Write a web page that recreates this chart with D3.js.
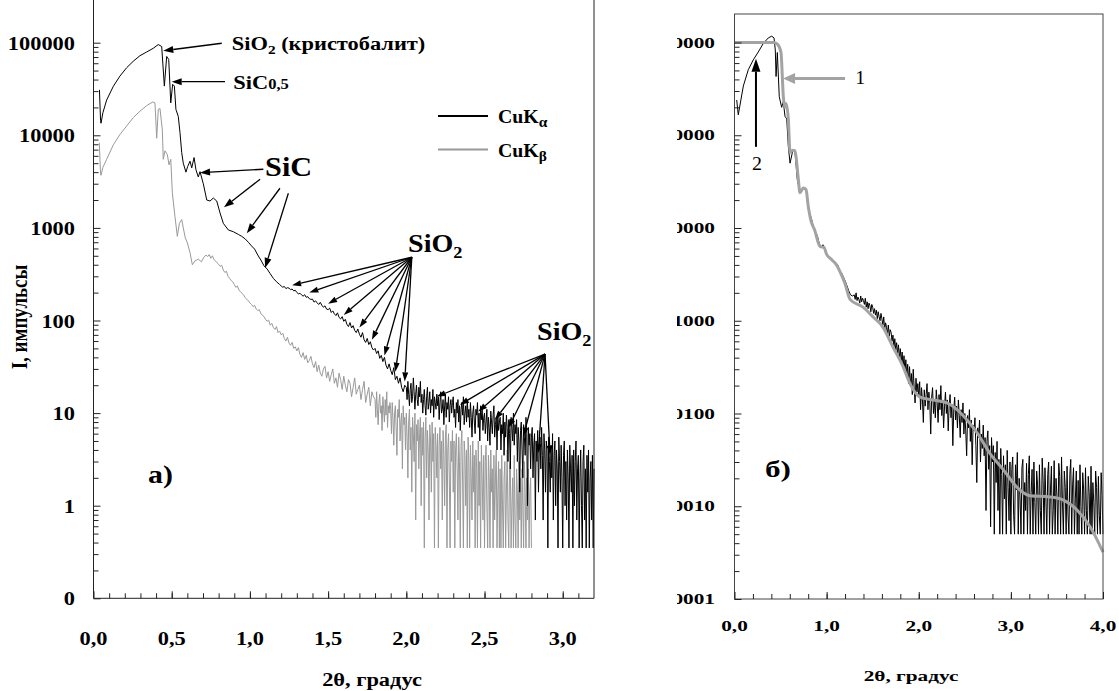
<!DOCTYPE html>
<html>
<head>
<meta charset="utf-8">
<script src="https://cdn.jsdelivr.net/npm/d3@7"></script>
<style>
  body { margin: 0; background: #fff; }
  svg { display: block; }
  text { font-family: "Liberation Serif", "Times New Roman", serif; fill: #000; }
</style>
</head>
<body>
<svg id="chart" width="1119" height="691"></svg>
<script>
// ---------- DATA ----------
// panel a) CuKα, smooth start of the curve: [2θ, counts]
const kaHead = [[0.038,31000],[0.045,14500],[0.048,13500],[0.060,17500],[0.084,24000],[0.127,33900],[0.169,43600],
  [0.212,53700],[0.254,63000],[0.297,72400],[0.340,79400],[0.382,87000],[0.414,95500],[0.436,91000],[0.453,34000],
  [0.468,71000],[0.481,66000],[0.494,22400],[0.506,35500],[0.517,34000],[0.527,19000],[0.542,16000],[0.553,10700],
  [0.564,6500],[0.574,5000],[0.591,4000],[0.602,4600],[0.617,5250],[0.628,4450],[0.643,5750],[0.655,4250],
  [0.670,3550],[0.681,4050],[0.702,3000],[0.724,2000],[0.745,1950],[0.766,2100],[0.788,1950],[0.809,1450],
  [0.830,1120],[0.862,950],[0.894,910],[0.926,850],[0.948,810],[0.97,760],[0.99,700],[1.01,640],[1.03,590],
  [1.05,510],[1.07,450],[1.09,390],[1.11,360],[1.13,320],[1.15,285],[1.17,262],[1.19,245]];
// CuKα readings every 0.01 from 1.20
const kaTailA = [
  236,229,233,221,226,224,215,219,209,212,
  201,194,197,189,183,190,178,181,172,169,
  170,158,163,155,149,157,146,139,144,133,
  131,136,122,127,118,113,121,108,104,110,
  98,103,91,86,95,83,88,78,74,81,
  71,66,74,62,58,64,55,59,51,48,
  50,44,47,39,42,36,40,33,30,34,
  29,26,31,23,25,21,24,19,17,20];
// CuKα readings every 0.005 from 2.000
const kaTailB = [
  19,14,22,16,12,18,21,13,15,24,17,11,16,20,14,12,19,15,22,13,
  16,10,14,18,12,9.5,15,19,11,13,17,10,14,12,18,9,15,13,11,16,
  12,15,8.5,13,17,10,11,14,7.5,12,16,9,13,11,15,8,12,14,10,13,
  15,9,11,7,13,10,14,8,12,6.5,11,13,9.5,15,7.5,10,12,8,14,9,
  11,7,13,9,5.5,10,12,8,6,11,9.5,13,7,10,5,12,8.5,11,6.5,9,
  10,6,8,11,5,9,7,4.5,10.5,8,6,9.5,12,5.5,7.5,9,4,10,6.5,8,
  9,4,7.5,6,10,3.5,8,5.5,9.5,7,3,8.5,6,2.5,9,7,5,10,4.5,7.5,
  6,8.5,3,7,5,1.4,6.5,8,4,2,7.5,5.5,3.5,9,6,1,7,4.5,6,2.5,
  5.5,7,2,4.5,6,0.7,5,3,6.5,1.4,4,5.5,2.5,7,3.5,0.7,6,4,1.4,5,
  4,0.35,5.5,3,1.4,4.5,2,6,0.7,3.5,5,1,4,2.5,0.35,5.5,3,1.4,4.5,2,
  0.35,3.5,5,1,3,0.7,4,2,0.35,4.5,2.5,1.4,3.5,0.35,4,1,3,5,0.7,2.5,
  3.5,0.35,2,4,1,0.35,3,4.5,0.7,2.5,0.35,3.5,1.4,4,0.35,2,3,0.7,3.5,0.35,
  2.5];

// panel a) CuKβ
const kbHead = [[0.037,8300],[0.045,3900],[0.048,3700],[0.060,4500],[0.084,5500],[0.127,7900],[0.169,10200],
  [0.212,12600],[0.254,15500],[0.297,18200],[0.340,20900],[0.379,22900],[0.393,22400],[0.404,9300],[0.414,19000],
  [0.425,19500],[0.440,11500],[0.446,5500],[0.457,6800],[0.472,6200],[0.483,4800],[0.494,5500],[0.504,2400],
  [0.521,1320],[0.536,810],[0.549,1120],[0.564,1230],[0.574,1000],[0.587,780],[0.600,690],[0.617,540],
  [0.632,400],[0.649,440],[0.670,460],[0.690,430],[0.705,480],[0.72,510]];
// CuKβ readings every 0.01 from 0.73
const kbTailA = [
  490,515,470,500,455,440,420,
  405,385,395,350,330,340,300,285,270,262,
  245,228,236,212,205,196,188,176,170,163,
  155,149,141,146,133,128,131,119,114,110,
  103,98,101,89,93,84,80,86,74,77,
  70,73,64,60,66,57,54,58,50,52,
  47,51,43,40,45,38,42,35,37,41,
  34,31,36,28,33,27,25,30,32,24,
  28,22,26,30,21,24,19,27,23,18,
  25,20,17,23,21,15,19,24,16,18,
  20,14,18,22,13,16,19,12,17,15];
// CuKβ readings every 0.005 from 1.800
const kbTailB = [
  14,9,17,11,7.5,13,16,10,12,6.5,15,11,8,14,9.5,17,7,12,10,13,
  11,6,13,8.5,4.5,10,12,7,3.5,11,9,14,5,8,10,2.5,12,7.5,9,4,
  10,5.5,2,8,11,4,7,1.4,9,6,3,10,0.7,7.5,5,8.5,2.5,6,9,1,
  7,3.5,8,0.35,5.5,9,2,6.5,4,0.7,7.5,5,1.4,8,3,6,0.35,7,4.5,2,
  6,0.35,4.5,7,2.5,5,0.7,6.5,3.5,1,5.5,7.5,0.35,4,6,2,0.35,5,3,6.5,
  1.4,5,0.35,4,6,2.5,0.7,5.5,3,0.35,4.5,6.5,1.8,0.35,5,3.5,1,4,0.35,5.5,
  3,0.35,4.5,2,0.7,5,1.4,3.5,0.35,4,2.5,0.35,5,1,3,0.35,4.5,2,0.7,3.5,
  0.35,3,4.5,1,0.35,3.5,2,0.35,4,1.4,2.5,0.35,3.5,0.7,2,4,0.35,1.4,3,0.35,
  2.5,0.35,3.5,1,0.35,2,3,0.35,1.4,4,0.7,0.35,2.5,3,0.35,1,2,0.35,3.5,0.7,
  0.35,2.5,1.4,0.35,3,0.7,2,0.35,2.5,1,0.35,3,1.4,0.35,2,0.7,2.5,0.35,1.4,2,
  0.35];

// panel б) measured reflectivity (black) and model curve 1 (grey)
const measHead = [[0.024,24],[0.041,16.6],[0.096,34],[0.150,51],[0.204,65],[0.258,79],[0.313,98],[0.367,112],
  [0.404,117],[0.429,112],[0.443,83],[0.451,43],[0.465,78],[0.486,26],[0.512,20],[0.530,23],[0.548,16],
  [0.567,15],[0.584,7.6],[0.603,5.0],[0.632,6.8],[0.657,6.5],[0.682,3.3],[0.711,2.4],[0.747,2.7],[0.776,2.6],
  [0.801,1.6],[0.838,1.23],[0.86,1.0],[0.88,0.9],[0.90,0.82],[0.92,0.68],[0.94,0.62],[0.96,0.66],[0.98,0.6],
  [1.0,0.53],[1.02,0.5],[1.04,0.47],[1.06,0.46],[1.08,0.44],[1.10,0.42],[1.12,0.4],[1.14,0.35],[1.16,0.33],
  [1.18,0.3],[1.20,0.27],[1.22,0.24],[1.24,0.21],[1.26,0.19],[1.28,0.185]];
// readings every 0.01 from 1.30
const measTail = [
  0.19,0.17,0.2,0.165,0.18,0.17,0.155,0.185,0.16,0.175,
  0.165,0.15,0.175,0.14,0.16,0.135,0.155,0.145,0.125,0.15,
  0.14,0.12,0.135,0.115,0.13,0.105,0.125,0.11,0.1,0.12,
  0.105,0.09,0.11,0.08,0.095,0.085,0.072,0.09,0.068,0.08,
  0.075,0.06,0.07,0.052,0.064,0.048,0.058,0.044,0.055,0.04,
  0.05,0.036,0.046,0.031,0.042,0.028,0.038,0.025,0.034,0.021,
  0.032,0.02,0.027,0.016,0.03,0.019,0.013,0.024,0.017,0.021,
  0.015,0.022,0.011,0.019,0.014,0.008,0.018,0.012,0.016,0.021,
  0.011,0.017,0.013,0.006,0.015,0.019,0.01,0.014,0.009,0.018,
  0.013,0.008,0.016,0.011,0.02,0.0095,0.014,0.007,0.012,0.017,
  0.01,0.014,0.0065,0.012,0.016,0.009,0.0125,0.0045,0.011,0.015,
  0.0085,0.012,0.007,0.014,0.0095,0.0055,0.011,0.008,0.013,0.006,
  0.01,0.0065,0.0035,0.0095,0.007,0.011,0.005,0.0085,0.0028,0.0075,
  0.0065,0.009,0.0045,0.0018,0.007,0.0055,0.0085,0.003,0.006,0.0042,
  0.0075,0.0035,0.0055,0.0009,0.005,0.0065,0.0025,0.0045,0.0006,0.0055,
  0.003,0.0045,0.0005,0.0038,0.0018,0.005,0.0009,0.0032,0.0005,0.0042,
  0.0022,0.0005,0.0035,0.0012,0.0028,0.0005,0.004,0.0016,0.0007,0.003,
  0.0005,0.0025,0.0034,0.0008,0.0005,0.0028,0.0015,0.0038,0.0005,0.002,
  0.0012,0.0005,0.0026,0.0032,0.0005,0.0018,0.0009,0.0029,0.0005,0.0022,
  0.0035,0.0005,0.0014,0.0025,0.0005,0.003,0.0011,0.0005,0.0024,0.0017,
  0.0005,0.0028,0.0009,0.0005,0.0033,0.0019,0.0005,0.0026,0.0012,0.0005,
  0.0022,0.003,0.0005,0.0015,0.0027,0.0005,0.0009,0.0031,0.0005,0.002,
  0.0013,0.0005,0.0029,0.0021,0.0005,0.0034,0.0011,0.0005,0.0024,0.0016,
  0.0005,0.0027,0.0008,0.0005,0.0022,0.0032,0.0005,0.0017,0.0026,0.0005,
  0.0012,0.0024,0.0005,0.0019,0.0005,0.0028,0.001,0.0005,0.0023,0.0015,
  0.0005,0.0026,0.0009,0.0005,0.0021,0.0014,0.0005,0.0027,0.0005,0.0018,
  0.0011,0.0005,0.0024,0.0016,0.0005,0.0021,0.0008,0.0005,0.0023,0.0013,
  0.0005];
const modelCurve = [[0,100],[0.43,100],[0.47,95],[0.505,78],[0.519,43],[0.53,26],[0.548,20],[0.559,22],[0.584,15],
  [0.603,6.5],[0.632,6.9],[0.657,6.8],[0.69,3.6],[0.711,2.4],[0.747,2.7],[0.776,2.6],[0.801,1.7],[0.827,1.23],
  [0.87,0.95],[0.93,0.63],[0.97,0.62],[1.0,0.52],[1.05,0.46],[1.1,0.41],[1.15,0.33],[1.2,0.25],[1.254,0.17],
  [1.395,0.14],[1.504,0.11],[1.612,0.085],[1.721,0.052],[1.83,0.032],[1.905,0.021],[2.014,0.015],[2.155,0.014],
  [2.307,0.013],[2.416,0.011],[2.524,0.0085],[2.633,0.0062],[2.774,0.0037],[2.915,0.0025],[3.067,0.0016],
  [3.208,0.0013],[3.425,0.00126],[3.566,0.00117],[3.718,0.00091],[3.86,0.0006],[4.0,0.00032]];

// ticks and labels
const aYTicks = [0.1, 1, 10, 100, 1000, 10000, 100000];
const aYLabels = ["0", "1", "10", "100", "1000", "10000", "100000"];
const aXTicks = [0, 0.5, 1, 1.5, 2, 2.5, 3];
const aXLabels = ["0,0", "0,5", "1,0", "1,5", "2,0", "2,5", "3,0"];
const bYTicks = [0.0001, 0.001, 0.01, 0.1, 1, 10, 100];
const bYLabels = ["0,0001", "0,0010", "0,0100", "0,1000", "1,0000", "10,0000", "100,0000"];
const bXTicks = [0, 1, 2, 3, 4];
const bXLabels = ["0,0", "1,0", "2,0", "3,0", "4,0"];

// annotation anchors in data units
const cristFrom = [0.820, 98600], cristTo = [0.446, 81800];
const sic05From = [0.841, 37900], sic05To = [0.50, 37900];
const sicArrows = [[1.086,4300,0.681,3950],[1.065,3350,0.834,1670],[1.192,2680,0.980,875],[1.246,2370,1.097,370]];
const sio2aFrom = [2.035, 482];
const sio2aTips = [[1.27,240],[1.38,200],[1.50,152],[1.60,115],[1.70,84],[1.78,62],[1.86,42],[1.93,28],[1.99,22]];
const sio2bFrom = [2.887, 43.4];
const sio2bTips = [[2.194,15.1],[2.343,12.3],[2.460,10.4],[2.567,8.5],[2.652,6.9],[2.748,5.6],[2.844,3.7],[2.919,3.55]];
const arrow1 = [1.20, 40.8, 0.527, 40.8];
const arrow2 = [0.233, 7.5, 0.233, 66.8];

// ---------- SCALES ----------
const svg = d3.select("#chart");
const xA = d3.scaleLinear().domain([0, 3.2]).range([93.5, 594]);
const yA = d3.scaleLog().domain([0.1, 100000]).range([598.3, 42.7]);
const xB = d3.scaleLinear().domain([0, 4]).range([734.5, 1103]);
const yB = d3.scaleLog().domain([0.0001, 100]).range([599, 42.5]);

const SXA = 1.18, SXB = 1.42;   // the original figure is stretched sideways

const grid = (start, step, vals) => vals.map((v, i) => [+(start + i * step).toFixed(3), v]);

function txt(g, x, y, s, size, sx, anchor, weight) {
  return g.append("text")
    .attr("transform", `translate(${x},${y}) scale(${sx},1)`)
    .attr("font-size", size)
    .attr("font-weight", weight || "bold")
    .attr("text-anchor", anchor || "start")
    .text(s);
}

function arrow(g, x1, y1, x2, y2, color, w, hl, hw) {
  const a = Math.atan2(y2 - y1, x2 - x1);
  const bx = x2 - hl * Math.cos(a), by = y2 - hl * Math.sin(a);
  g.append("line").attr("x1", x1).attr("y1", y1).attr("x2", bx).attr("y2", by)
    .attr("stroke", color).attr("stroke-width", w);
  const px = -Math.sin(a) * hw / 2, py = Math.cos(a) * hw / 2;
  g.append("path")
    .attr("d", `M${x2},${y2}L${bx + px},${by + py}L${bx - px},${by - py}Z`)
    .attr("fill", color);
}

function logMinor(lo, hi) {
  const out = [];
  for (let d = lo; d < hi * 0.99; d *= 10)
    for (let k = 2; k <= 9; k++) out.push(+(k * d).toPrecision(3));
  return out;
}

function ticks(g, axis) {
  g.call(axis).call(s => s.select(".domain").remove());
  g.selectAll("line").attr("stroke", "#222");
}

// ---------- PANEL a) ----------
const gA = svg.append("g");
const kaData = kaHead.concat(grid(1.20, 0.01, kaTailA), grid(2.0, 0.005, kaTailB));
const kbData = kbHead.concat(grid(0.73, 0.01, kbTailA), grid(1.8, 0.005, kbTailB));
const lineA = d3.line().x(d => xA(d[0])).y(d => yA(d[1]));

gA.append("path").datum(kbData).attr("d", lineA)
  .attr("fill", "none").attr("stroke", "#999").attr("stroke-width", 1);
gA.append("path").datum(kaData).attr("d", lineA)
  .attr("fill", "none").attr("stroke", "#000").attr("stroke-width", 1);

// frame
gA.append("path")
  .attr("d", `M${xA(0)},0V${yA(0.1)}H${xA(3.2)}V0`)
  .attr("fill", "none").attr("stroke", "#222");

// inward ticks
ticks(gA.append("g").attr("transform", `translate(${xA(0)},0)`),
  d3.axisRight(yA).tickValues(logMinor(0.1, 100000)).tickSize(5).tickFormat(""));
ticks(gA.append("g").attr("transform", `translate(${xA(0)},0)`),
  d3.axisRight(yA).tickValues(aYTicks).tickSize(7).tickFormat(""));
ticks(gA.append("g").attr("transform", `translate(0,${yA(0.1)})`),
  d3.axisTop(xA).tickValues(d3.range(1, 32).map(i => i / 10)).tickSize(5).tickFormat(""));
ticks(gA.append("g").attr("transform", `translate(0,${yA(0.1)})`),
  d3.axisTop(xA).tickValues(aXTicks).tickSize(7).tickFormat(""));

aYTicks.forEach((v, i) => txt(gA, 75, yA(v) + 7, aYLabels[i], 19, SXA, "end"));
aXTicks.forEach((v, i) => txt(gA, xA(v), 645, aXLabels[i], 19, SXA, "middle"));
txt(gA, 372, 686, "2θ, градус", 19, SXA, "middle");
gA.append("text")
  .attr("transform", `translate(27,317) scale(${SXA},1) rotate(-90)`)
  .attr("font-size", 19).attr("font-weight", "bold").attr("text-anchor", "middle")
  .text("I, импульсы");
txt(gA, 148, 483, "а)", 26, 1.15);

// legend
gA.append("line").attr("x1", 438).attr("x2", 488).attr("y1", 116).attr("y2", 116)
  .attr("stroke", "#000").attr("stroke-width", 2);
gA.append("line").attr("x1", 438).attr("x2", 488).attr("y1", 149.5).attr("y2", 149.5)
  .attr("stroke", "#999").attr("stroke-width", 2);
let t = txt(gA, 498, 123, "CuK", 18, 1.1);
t.append("tspan").attr("font-size", 14).attr("dy", 4).text("α");
t = txt(gA, 498, 157, "CuK", 18, 1.1);
t.append("tspan").attr("font-size", 14).attr("dy", 4).text("β");

// phase labels and arrows
const P = d => [xA(d[0]), yA(d[1])];
arrow(gA, ...P(cristFrom), ...P(cristTo), "#000", 1.3, 10, 7);
t = txt(gA, xA(0.884), yA(83000), "SiO", 19, SXA);
t.append("tspan").attr("font-size", 13).attr("dy", 4).text("2");
t.append("tspan").attr("dy", -4).text(" (кристобалит)");

arrow(gA, ...P(sic05From), ...P(sic05To), "#000", 1.3, 10, 7);
t = txt(gA, xA(0.894), yA(31600), "SiC", 19, SXA);
t.append("tspan").attr("font-size", 14).text("0,5");

txt(gA, xA(1.097), yA(3630), "SiC", 27, 1.12);
sicArrows.forEach(a => arrow(gA, xA(a[0]), yA(a[1]), xA(a[2]), yA(a[3]), "#000", 1.3, 10, 7));

t = txt(gA, xA(2.011), yA(550), "SiO", 26, 1.08);
t.append("tspan").attr("font-size", 17).attr("dy", 6).text("2");
sio2aTips.forEach(d => arrow(gA, ...P(sio2aFrom), ...P(d), "#000", 1.3, 9, 6));

t = txt(gA, xA(2.836), yA(61.5), "SiO", 26, 1.08);
t.append("tspan").attr("font-size", 17).attr("dy", 6).text("2");
sio2bTips.forEach(d => arrow(gA, ...P(sio2bFrom), ...P(d), "#000", 1.3, 9, 6));

// ---------- PANEL б) ----------
const gB = svg.append("g");
const measData = measHead.concat(grid(1.30, 0.01, measTail));
const lineB = d3.line().x(d => xB(d[0])).y(d => yB(d[1]));

gB.append("path").datum(measData).attr("d", lineB)
  .attr("fill", "none").attr("stroke", "#000").attr("stroke-width", 1);
gB.append("path").datum(modelCurve).attr("d", lineB.curve(d3.curveMonotoneX))
  .attr("fill", "none").attr("stroke", "#a3a3a3").attr("stroke-width", 3);

gB.append("rect")
  .attr("x", xB(0)).attr("y", 14).attr("width", xB(4) - xB(0)).attr("height", yB(0.0001) - 14)
  .attr("fill", "none").attr("stroke", "#444");

ticks(gB.append("g").attr("transform", `translate(${xB(0)},0)`),
  d3.axisRight(yB).tickValues(logMinor(0.0001, 100)).tickSize(5).tickFormat(""));
ticks(gB.append("g").attr("transform", `translate(${xB(0)},0)`),
  d3.axisRight(yB).tickValues(bYTicks).tickSize(7).tickFormat(""));
ticks(gB.append("g").attr("transform", `translate(0,${yB(0.0001)})`),
  d3.axisTop(xB).tickValues(d3.range(1, 20).map(i => i / 5)).tickSize(5).tickFormat(""));
ticks(gB.append("g").attr("transform", `translate(0,${yB(0.0001)})`),
  d3.axisTop(xB).tickValues(bXTicks).tickSize(7).tickFormat(""));

// y labels are cut on the left in the original
svg.append("clipPath").attr("id", "cutB")
  .append("rect").attr("x", 677).attr("y", 0).attr("width", 60).attr("height", 691);
const gBL = gB.append("g").attr("clip-path", "url(#cutB)");
bYTicks.forEach((v, i) => txt(gBL, 715, yB(v) + 5, bYLabels[i], 15, SXB, "end"));
bXTicks.forEach((v, i) => txt(gB, xB(v), 631, bXLabels[i], 15, SXB, "middle"));
txt(gB, 911, 681, "2θ, градус", 15, SXB, "middle");
txt(gB, 765, 477, "б)", 24, 1.3);

// curve labels 1 and 2
arrow(gB, xB(arrow1[0]), yB(arrow1[1]), xB(arrow1[2]), yB(arrow1[3]), "#a3a3a3", 3, 12, 11);
txt(gB, xB(1.31), yB(36), "1", 19, 1.05, "start", "normal");
arrow(gB, xB(arrow2[0]), yB(arrow2[1]), xB(arrow2[2]), yB(arrow2[3]), "#000", 2, 13, 9);
txt(gB, xB(0.245), yB(4.25), "2", 19, 1.05, "middle", "normal");
</script>
</body>
</html>
